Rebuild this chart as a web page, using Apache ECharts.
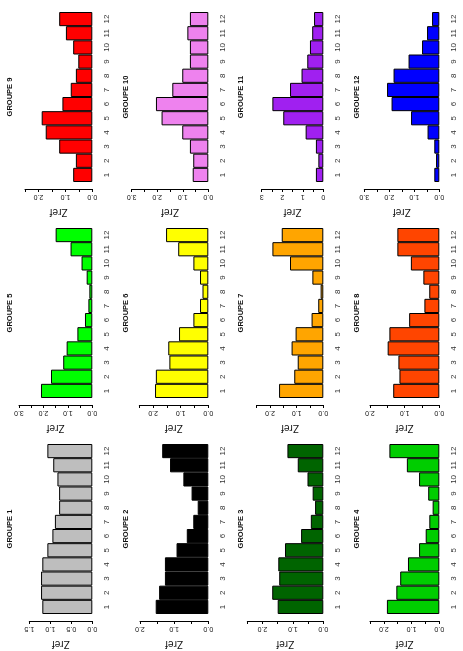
<!DOCTYPE html>
<html>
<head>
<meta charset="utf-8">
<script src="https://cdn.jsdelivr.net/npm/echarts@6/dist/echarts.min.js"></script>
<style>
  html, body { margin: 0; padding: 0; background: #fff; }
  #chart { width: 463px; height: 651px; }
</style>
</head>
<body>
<div id="chart"></div>
<script>
var categories = ['1', '2', '3', '4', '5', '6', '7', '8', '9', '10', '11', '12'];

var groupe1 = [1.19, 1.22, 1.22, 1.19, 1.07, 0.95, 0.89, 0.79, 0.79, 0.83, 0.93, 1.07];
var groupe2 = [1.54, 1.44, 1.27, 1.27, 0.93, 0.63, 0.44, 0.31, 0.49, 0.73, 1.12, 1.35];
var groupe3 = [1.50, 1.68, 1.45, 1.48, 1.26, 0.73, 0.41, 0.27, 0.35, 0.52, 0.84, 1.18];
var groupe4 = [1.89, 1.55, 1.41, 1.13, 0.73, 0.49, 0.36, 0.24, 0.40, 0.73, 1.17, 1.80];
var groupe5 = [2.10, 1.69, 1.19, 1.05, 0.61, 0.30, 0.16, 0.12, 0.23, 0.44, 0.89, 1.50];
var groupe6 = [1.93, 1.90, 1.41, 1.45, 1.06, 0.54, 0.30, 0.21, 0.30, 0.54, 1.09, 1.53];
var groupe7 = [1.66, 1.09, 0.96, 1.19, 1.04, 0.44, 0.19, 0.10, 0.41, 1.25, 1.91, 1.56];
var groupe8 = [1.33, 1.15, 1.18, 1.49, 1.44, 0.87, 0.43, 0.29, 0.46, 0.82, 1.21, 1.21];
var groupe9 = [0.71, 0.61, 1.23, 1.73, 1.88, 1.11, 0.80, 0.61, 0.52, 0.71, 0.98, 1.23];
var groupe10 = [0.61, 0.59, 0.72, 1.02, 1.83, 2.05, 1.41, 1.02, 0.72, 0.72, 0.82, 0.72];
var groupe11 = [0.36, 0.24, 0.36, 0.86, 1.95, 2.48, 1.62, 1.06, 0.78, 0.65, 0.54, 0.45];
var groupe12 = [0.20, 0.13, 0.20, 0.47, 1.13, 1.91, 2.09, 1.83, 1.23, 0.69, 0.49, 0.29];

// last tick of each Zref axis
var zrefMax = [1.5, 2.0, 2.5, 2.5, 3.0, 2.5, 2.5, 2.0, 2.5, 3.0, 3, 3.0];
var zrefStep = [0.5, 1, 1, 1, 1, 1, 1, 1, 1, 1, 1, 1];

var groupes = [groupe1, groupe2, groupe3, groupe4, groupe5, groupe6,
  groupe7, groupe8, groupe9, groupe10, groupe11, groupe12];
var titres = ['GROUPE 1', 'GROUPE 2', 'GROUPE 3', 'GROUPE 4', 'GROUPE 5', 'GROUPE 6',
  'GROUPE 7', 'GROUPE 8', 'GROUPE 9', 'GROUPE 10', 'GROUPE 11', 'GROUPE 12'];

// styles / layout (page is the R plot turned 90 deg)
var couleurs = ['#bebebe', '#000000', '#006400', '#00cd00', '#00ff00', '#ffff00',
  '#ffa500', '#ff4500', '#ff0000', '#ee82ee', '#a020f0', '#0000ff'];
var baseX = [92.3, 208.3, 323.3, 439.3];
var tickX = [29.3, 140, 247.3, 370, 19, 139.3, 256.7, 370, 25, 131.7, 261.7, 364.3];
var rowTop = [444, 228, 12];
var barsHeight = 170;
var police = 'Liberation Sans';

var grids = [], xAxes = [], yAxes = [], series = [], graphics = [];

for (var i = 0; i < 12; i++) {
  var col = i % 4;
  var row = Math.floor(i / 4);
  var step = zrefStep[i];
  var entier = (i === 10);

  grids.push({
    left: tickX[i],
    width: baseX[col] - tickX[i],
    top: rowTop[row],
    height: barsHeight
  });

  xAxes.push({
    type: 'value',
    gridIndex: i,
    inverse: true,
    position: 'bottom',
    offset: 7,
    min: 0,
    max: zrefMax[i],
    interval: 0.5,
    splitLine: { show: false },
    axisLine: { show: true, lineStyle: { color: '#000', width: 1 } },
    axisTick: { show: true, length: 3, lineStyle: { color: '#000' } },
    axisLabel: {
      rotate: 180,
      margin: 8,
      fontSize: 7,
      fontFamily: police,
      color: '#111',
      align: 'center',
      verticalAlign: 'middle',
      showMinLabel: true,
      showMaxLabel: true,
      formatter: (function (s, ent) {
        return function (v) {
          if (Math.abs(v / s - Math.round(v / s)) > 1e-6) return '';
          return ent ? String(Math.round(v)) : v.toFixed(1);
        };
      })(step, entier)
    },
    name: 'Zref',
    nameLocation: 'middle',
    nameGap: 23,
    nameRotate: 180,
    nameTextStyle: {
      fontSize: 10,
      fontFamily: police,
      color: '#111',
      align: 'center',
      verticalAlign: 'middle'
    }
  });

  yAxes.push({
    type: 'category',
    gridIndex: i,
    position: 'right',
    data: categories,
    axisLine: { show: false },
    axisTick: { show: false },
    splitLine: { show: false },
    axisLabel: {
      rotate: 90,
      margin: 14,
      interval: 0,
      fontSize: 8,
      fontFamily: police,
      color: '#333',
      align: 'center',
      verticalAlign: 'middle'
    }
  });

  series.push({
    type: 'bar',
    name: titres[i],
    xAxisIndex: i,
    yAxisIndex: i,
    data: groupes[i],
    barCategoryGap: '0%',
    silent: true,
    itemStyle: {
      color: couleurs[i],
      borderColor: '#000',
      borderWidth: 1
    }
  });

  graphics.push({
    type: 'text',
    x: baseX[col] - 82,
    y: rowTop[row] + barsHeight / 2,
    rotation: Math.PI / 2,
    style: {
      text: titres[i],
      font: 'bold 7.5px "' + police + '"',
      fill: '#111',
      textAlign: 'center',
      textVerticalAlign: 'middle',
      align: 'center',
      verticalAlign: 'middle'
    }
  });
}

var option = {
  animation: false,
  backgroundColor: '#fff',
  grid: grids,
  xAxis: xAxes,
  yAxis: yAxes,
  series: series,
  graphic: graphics
};

echarts.init(document.getElementById('chart')).setOption(option);
</script>
</body>
</html>
